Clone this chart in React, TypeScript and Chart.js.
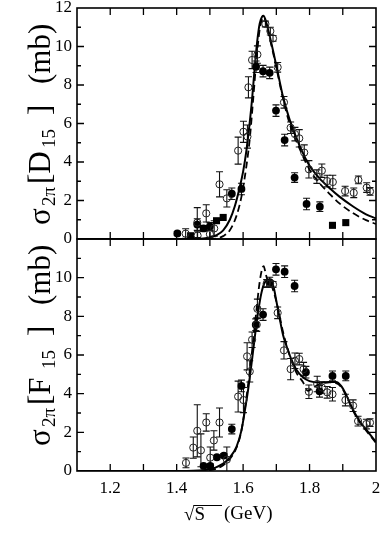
import { useEffect, useRef } from 'react';
import { Chart, registerables } from 'chart.js';

Chart.register(...registerables);

const FONT = '"Liberation Serif", "DejaVu Serif", "Times New Roman", serif';

// ---------- axis ticks ----------
const xTickValues = [1.2, 1.4, 1.6, 1.8, 2.0];
const xTickLabels = ['1.2', '1.4', '1.6', '1.8', '2'];
const xTickMarks = [1.2, 1.3, 1.4, 1.5, 1.6, 1.7, 1.8, 1.9];
const yMajorMarks = [2, 4, 6, 8, 10];
const yMinorMarks = [1, 3, 5, 7, 9, 11];
const topYTickValues = [0, 2, 4, 6, 8, 10, 12];
const bottomYTickValues = [0, 2, 4, 6, 8, 10];

// ---------- top panel: D15 ----------
const topOpenX = [1.427, 1.462, 1.463, 1.489, 1.500, 1.513, 1.529, 1.551, 1.585, 1.601, 1.613, 1.616, 1.627, 1.643, 1.667, 1.682, 1.690, 1.704, 1.723, 1.743, 1.756, 1.769, 1.784, 1.798, 1.822, 1.837, 1.853, 1.870, 1.907, 1.933, 1.947, 1.972, 1.982];
const topOpenY = [0.28, 0.85, 0.18, 1.33, 0.25, 0.55, 2.84, 2.11, 4.59, 5.57, 5.32, 7.88, 9.30, 9.58, 11.17, 10.80, 10.42, 8.92, 7.10, 5.78, 5.45, 5.23, 4.49, 3.62, 3.24, 3.55, 3.01, 2.96, 2.49, 2.40, 3.07, 2.67, 2.47];
const topOpenErr = [0.25, 0.78, 0.2, 0.45, 0.2, 0.4, 0.65, 0.45, 0.7, 0.55, 0.6, 0.55, 0.45, 0.45, 0.15, 0.2, 0.15, 0.25, 0.3, 0.3, 0.35, 0.45, 0.4, 0.45, 0.35, 0.35, 0.3, 0.35, 0.25, 0.25, 0.2, 0.25, 0.2];

const topFilledX = [1.402, 1.462, 1.481, 1.500, 1.566, 1.595, 1.639, 1.660, 1.680, 1.699, 1.725, 1.755, 1.791, 1.831];
const topFilledY = [0.29, 0.75, 0.55, 0.65, 2.35, 2.60, 8.95, 8.72, 8.63, 6.67, 5.14, 3.19, 1.82, 1.68];
const topFilledErr = [0.1, 0.3, 0.15, 0.2, 0.3, 0.3, 0.3, 0.3, 0.3, 0.3, 0.3, 0.25, 0.3, 0.25];

const topSquareX = [1.442, 1.520, 1.540, 1.869, 1.909];
const topSquareY = [0.17, 0.95, 1.12, 0.71, 0.85];

const topSolidX = [1.10, 1.40, 1.45, 1.48, 1.50, 1.52, 1.54, 1.56, 1.575, 1.59, 1.60, 1.61, 1.625, 1.635, 1.642, 1.65, 1.657, 1.662, 1.667, 1.675, 1.69, 1.705, 1.72, 1.74, 1.77, 1.80, 1.83, 1.86, 1.89, 1.93, 1.97, 2.0];
const topSolidY = [0, 0, 0.01, 0.03, 0.08, 0.2, 0.45, 1.0, 1.7, 2.7, 3.5, 4.6, 6.9, 8.9, 10.2, 11.2, 11.55, 11.6, 11.4, 10.9, 9.8, 8.6, 7.4, 6.2, 4.85, 3.8, 3.15, 2.65, 2.2, 1.7, 1.28, 1.07];

const topDashX = [1.10, 1.50, 1.52, 1.54, 1.56, 1.58, 1.595, 1.61, 1.62, 1.63, 1.64, 1.65, 1.658, 1.663, 1.668, 1.675, 1.69, 1.705, 1.72, 1.74, 1.77, 1.80, 1.83, 1.86, 1.89, 1.93, 1.97, 2.0];
const topDashY = [0, 0, 0.03, 0.15, 0.45, 1.2, 2.2, 3.8, 5.2, 7.2, 9.3, 10.9, 11.45, 11.5, 11.3, 10.8, 9.7, 8.5, 7.3, 6.0, 4.7, 3.6, 2.9, 2.35, 1.85, 1.35, 0.98, 0.78];

// ---------- bottom panel: F15 ----------
const botOpenX = [1.428, 1.450, 1.462, 1.473, 1.489, 1.501, 1.512, 1.529, 1.551, 1.585, 1.601, 1.612, 1.620, 1.627, 1.641, 1.643, 1.671, 1.681, 1.690, 1.704, 1.723, 1.743, 1.756, 1.769, 1.782, 1.798, 1.823, 1.837, 1.853, 1.869, 1.908, 1.931, 1.946, 1.971, 1.982];
const botOpenY = [0.42, 1.21, 2.08, 1.07, 2.51, 0.69, 1.58, 2.51, 0.59, 3.85, 3.67, 5.93, 5.15, 6.79, 7.57, 8.39, 9.70, 9.70, 9.65, 8.18, 6.24, 5.27, 5.70, 5.79, 5.27, 4.10, 4.50, 4.32, 4.07, 3.97, 3.67, 3.38, 2.58, 2.43, 2.50];
const botOpenErr = [0.25, 0.55, 1.35, 0.85, 0.45, 0.55, 0.5, 0.75, 0.65, 0.8, 0.65, 0.7, 0.55, 0.4, 0.35, 0.5, 0.2, 0.15, 0.15, 0.3, 0.45, 0.55, 0.4, 0.3, 0.35, 0.35, 0.4, 0.3, 0.3, 0.35, 0.3, 0.3, 0.25, 0.25, 0.2];

const botFilledX = [1.481, 1.501, 1.521, 1.542, 1.566, 1.595, 1.638, 1.660, 1.680, 1.699, 1.725, 1.755, 1.789, 1.830, 1.869, 1.909];
const botFilledY = [0.26, 0.27, 0.71, 0.80, 2.17, 4.40, 7.57, 8.09, 9.77, 10.43, 10.31, 9.57, 5.11, 4.12, 4.92, 4.92];
const botFilledErr = [0, 0.1, 0.1, 0.1, 0.25, 0.3, 0.3, 0.3, 0.25, 0.3, 0.3, 0.3, 0.3, 0.3, 0.25, 0.25];

const botSolidX = [1.10, 1.40, 1.45, 1.48, 1.50, 1.52, 1.54, 1.56, 1.58, 1.595, 1.605, 1.615, 1.625, 1.635, 1.645, 1.655, 1.665, 1.675, 1.685, 1.692, 1.70, 1.71, 1.72, 1.73, 1.74, 1.76, 1.78, 1.80, 1.83, 1.86, 1.88, 1.895, 1.91, 1.93, 1.95, 1.97, 2.0];
const botSolidY = [0, 0, 0.01, 0.04, 0.09, 0.2, 0.38, 0.7, 1.25, 2.1, 3.1, 4.2, 5.5, 6.9, 8.2, 9.2, 9.75, 9.85, 9.8, 9.5, 8.8, 7.9, 7.05, 6.5, 6.0, 5.25, 4.85, 4.65, 4.58, 4.6, 4.6, 4.4, 3.95, 3.2, 2.6, 2.15, 1.5];

const botDashX = [1.10, 1.45, 1.50, 1.52, 1.54, 1.56, 1.58, 1.595, 1.61, 1.625, 1.64, 1.65, 1.658, 1.662, 1.668, 1.675, 1.685, 1.695, 1.705, 1.72, 1.74, 1.76, 1.78, 1.795, 1.81, 1.83, 1.86, 1.88, 1.895, 1.91, 1.93, 1.95, 1.97, 2.0];
const botDashY = [0, 0, 0.04, 0.12, 0.3, 0.62, 1.2, 2.1, 3.8, 5.9, 8.3, 9.8, 10.5, 10.6, 10.2, 9.8, 9.6, 9.1, 8.4, 7.2, 6.0, 5.1, 4.6, 4.15, 4.3, 4.5, 4.58, 4.55, 4.35, 3.9, 3.15, 2.55, 2.1, 1.45];

const topTitleLetter = 'D';
const bottomTitleLetter = 'F';

const pts = (xs: number[], ys: number[]) => xs.map((x, i) => ({ x, y: ys[i] }));

const decorPlugin = {
  id: 'panelDecor',
  beforeDatasetsDraw(chart: any) {
    const ctx = chart.ctx;
    const xs = chart.scales.x;
    const ys = chart.scales.y;
    const a = chart.chartArea;
    ctx.save();
    ctx.beginPath();
    ctx.rect(a.left, a.top, a.right - a.left, a.bottom - a.top);
    ctx.clip();
    ctx.strokeStyle = '#111';
    ctx.lineWidth = 1.1;
    chart.data.datasets.forEach((ds: any) => {
      if (!ds.errors) return;
      ds.data.forEach((p: any, j: number) => {
        const e = ds.errors[j];
        if (!e) return;
        const px = xs.getPixelForValue(p.x);
        const y1 = ys.getPixelForValue(p.y - e);
        const y2 = ys.getPixelForValue(p.y + e);
        ctx.beginPath();
        ctx.moveTo(px, y1);
        ctx.lineTo(px, y2);
        ctx.moveTo(px - 3.5, y1);
        ctx.lineTo(px + 3.5, y1);
        ctx.moveTo(px - 3.5, y2);
        ctx.lineTo(px + 3.5, y2);
        ctx.stroke();
      });
    });
    ctx.restore();
  },
  afterDraw(chart: any, _args: any, opts: any) {
    const ctx = chart.ctx;
    const xs = chart.scales.x;
    const ys = chart.scales.y;
    const a = chart.chartArea;
    ctx.save();
    ctx.strokeStyle = '#000';
    ctx.lineWidth = 1.6;
    ctx.strokeRect(a.left, a.top, a.right - a.left, a.bottom - a.top);
    ctx.lineWidth = 1.3;
    ctx.beginPath();
    xTickMarks.forEach((v) => {
      const px = xs.getPixelForValue(v);
      ctx.moveTo(px, a.bottom);
      ctx.lineTo(px, a.bottom - 7);
      ctx.moveTo(px, a.top);
      ctx.lineTo(px, a.top + 7);
    });
    yMajorMarks.forEach((v) => {
      const py = ys.getPixelForValue(v);
      ctx.moveTo(a.left, py);
      ctx.lineTo(a.left + 7, py);
      ctx.moveTo(a.right, py);
      ctx.lineTo(a.right - 7, py);
    });
    yMinorMarks.forEach((v) => {
      const py = ys.getPixelForValue(v);
      ctx.moveTo(a.left, py);
      ctx.lineTo(a.left + 4, py);
      ctx.moveTo(a.right, py);
      ctx.lineTo(a.right - 4, py);
    });
    ctx.stroke();

    // y title (rotated, with subscripts)
    ctx.save();
    ctx.translate(50, opts.titleStartY);
    ctx.rotate(-Math.PI / 2);
    ctx.fillStyle = '#000';
    ctx.textAlign = 'left';
    ctx.textBaseline = 'alphabetic';
    const big = `31px ${FONT}`;
    const small = `19px ${FONT}`;
    ctx.font = big;
    ctx.fillText('σ', 0, 0);
    ctx.font = small;
    ctx.fillText('2π', 19, 5);
    ctx.font = big;
    ctx.fillText('[' + opts.letter, 41, 0);
    ctx.font = small;
    ctx.fillText('15', 77, 5);
    ctx.font = big;
    ctx.fillText(']', 110, 0);
    ctx.fillText('(mb)', 141, 0);
    ctx.restore();

    if (opts.xTitle) {
      ctx.fillStyle = '#000';
      ctx.textAlign = 'left';
      ctx.textBaseline = 'alphabetic';
      ctx.font = `19px ${FONT}`;
      const rx = 184;
      const by = 520;
      ctx.fillText('√', rx, by);
      const m = ctx.measureText('√');
      const rw = m.width;
      const top = by - (m.actualBoundingBoxAscent || 15);
      ctx.fillText('S', rx + rw, by);
      ctx.lineWidth = 1;
      ctx.beginPath();
      ctx.moveTo(rx + rw - 1, top + 0.5);
      ctx.lineTo(222, top + 0.5);
      ctx.stroke();
      ctx.fillText('(GeV)', 224, by - 1);
    }
    ctx.restore();
  },
};

function makeConfig(panel: 'top' | 'bottom'): any {
  const isTop = panel === 'top';
  const openX = isTop ? topOpenX : botOpenX;
  const openY = isTop ? topOpenY : botOpenY;
  const openErr = isTop ? topOpenErr : botOpenErr;
  const filledX = isTop ? topFilledX : botFilledX;
  const filledY = isTop ? topFilledY : botFilledY;
  const filledErr = isTop ? topFilledErr : botFilledErr;
  const datasets: any[] = [
    {
      label: 'open',
      data: pts(openX, openY),
      errors: openErr,
      pointStyle: 'circle',
      pointRadius: 3.6,
      pointBorderWidth: 1,
      pointBorderColor: '#222',
      pointBackgroundColor: 'rgba(0,0,0,0)',
      showLine: false,
    },
    {
      label: 'filled',
      data: pts(filledX, filledY),
      errors: filledErr,
      pointStyle: 'circle',
      pointRadius: 3.9,
      pointBorderWidth: 0,
      pointBackgroundColor: '#000',
      showLine: false,
    },
  ];
  if (isTop) {
    datasets.push({
      label: 'squares',
      data: pts(topSquareX, topSquareY),
      pointStyle: 'rect',
      pointRadius: 5,
      pointBorderWidth: 0,
      pointBackgroundColor: '#000',
      showLine: false,
    });
  }
  datasets.push(
    {
      label: 'solid',
      data: pts(isTop ? topSolidX : botSolidX, isTop ? topSolidY : botSolidY),
      showLine: true,
      borderColor: '#000',
      borderWidth: 2,
      pointRadius: 0,
      cubicInterpolationMode: 'monotone',
    },
    {
      label: 'dashed',
      data: pts(isTop ? topDashX : botDashX, isTop ? topDashY : botDashY),
      showLine: true,
      borderColor: '#000',
      borderWidth: 1.8,
      borderDash: [7, 4],
      pointRadius: 0,
      cubicInterpolationMode: 'monotone',
    }
  );

  const yTicks = isTop ? topYTickValues : bottomYTickValues;
  return {
    type: 'scatter',
    data: { datasets },
    plugins: [decorPlugin],
    options: {
      responsive: false,
      animation: false,
      events: [],
      layout: {
        padding: isTop
          ? { top: 8, right: 6, bottom: 312, left: 0 }
          : { top: 239, right: 6, bottom: 0, left: 0 },
      },
      plugins: {
        legend: { display: false },
        tooltip: { enabled: false },
        panelDecor: {
          titleStartY: isTop ? 225 : 446,
          letter: isTop ? topTitleLetter : bottomTitleLetter,
          xTitle: !isTop,
        },
      },
      scales: {
        x: {
          type: 'linear',
          min: 1.1,
          max: 2.0,
          display: !isTop,
          grid: { display: false, drawTicks: false },
          border: { display: false },
          afterBuildTicks: (s: any) => {
            s.ticks = xTickValues.map((v) => ({ value: v }));
          },
          afterFit: (s: any) => {
            s.height = isTop ? 0 : 80;
            s.paddingLeft = 0;
            s.paddingRight = 0;
          },
          ticks: {
            autoSkip: false,
            maxRotation: 0,
            padding: 7,
            color: '#000',
            font: { family: FONT, size: 17 },
            callback: (v: number) => {
              const i = xTickValues.findIndex((t) => Math.abs(t - v) < 1e-6);
              return i >= 0 ? xTickLabels[i] : '';
            },
          },
        },
        y: {
          type: 'linear',
          min: 0,
          max: 12,
          grid: { display: false, drawTicks: false },
          border: { display: false },
          afterBuildTicks: (s: any) => {
            s.ticks = yTicks.map((v) => ({ value: v }));
          },
          afterFit: (s: any) => {
            s.width = 77;
            s.paddingTop = 0;
            s.paddingBottom = 0;
          },
          ticks: {
            autoSkip: false,
            padding: 5,
            color: '#000',
            font: { family: FONT, size: 17 },
            callback: (v: number) => String(v),
          },
        },
      },
    },
  };
}

export default function App() {
  const topRef = useRef<HTMLCanvasElement>(null);
  const botRef = useRef<HTMLCanvasElement>(null);

  useEffect(() => {
    document.body.style.margin = '0';
    const c1 = new Chart(topRef.current as HTMLCanvasElement, makeConfig('top'));
    const c2 = new Chart(botRef.current as HTMLCanvasElement, makeConfig('bottom'));
    return () => {
      c1.destroy();
      c2.destroy();
    };
  }, []);

  const cs: any = { position: 'absolute', left: 0, top: 0, width: 382, height: 551 };
  return (
    <div style={{ position: 'relative', width: 382, height: 551, background: '#fff' }}>
      <canvas ref={botRef} width={382} height={551} style={cs} />
      <canvas ref={topRef} width={382} height={551} style={cs} />
    </div>
  );
}
